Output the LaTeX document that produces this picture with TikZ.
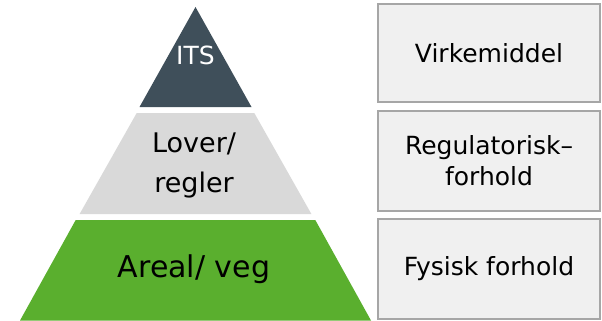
\documentclass[tikz,border=0pt]{standalone}
\usepackage{fontspec}
\setmainfont{DejaVu Sans}
\definecolor{itsdark}{HTML}{3F4F5A}
\definecolor{lawgray}{HTML}{D9D9D9}
\definecolor{areagreen}{HTML}{5AAF2E}
\definecolor{boxfill}{HTML}{F0F0F0}
\definecolor{boxline}{HTML}{A6A6A6}
\begin{document}
\begin{tikzpicture}[x=1pt,y=-1pt,
  sidebox/.style={draw=boxline,fill=boxfill,line width=1.6pt,minimum width=222pt,inner sep=0pt,align=center,font=\fontsize{25}{31}\selectfont},
  pyrtext/.style={inner sep=0pt,align=center}]
\useasboundingbox (0,0) rectangle (602,321);
% pyramid levels (apex 195.5,7 ; half-width 0.56*(y-7))
\fill[itsdark] (195.5,7) -- (251.5,107) -- (139.5,107) -- cycle;
\fill[lawgray] (136.7,113) -- (254.3,113) -- (311.4,214) -- (79.6,214) -- cycle;
\fill[areagreen] (75.7,220) -- (315.3,220) -- (371,320.5) -- (20,320.5) -- cycle;
\node[pyrtext,text=white,font=\fontsize{25}{30}\selectfont] (its) at (195.5,55) {ITS};
\node[pyrtext,font=\fontsize{27}{40}\selectfont] (lover) at (194,165) {Lover/\\regler};
\node[pyrtext,font=\fontsize{30}{36}\selectfont] (areal) at (194,269) {Areal/ veg};
% side boxes
\node[sidebox,minimum height=98.5pt] (virk) at (489,53) {Virkemiddel};
\node[sidebox,minimum height=100pt] (reg) at (489,161) {Regulatorisk–\\forhold};
\node[sidebox,minimum height=100pt] (fys) at (489,269) {Fysisk forhold};
\end{tikzpicture}
\end{document}
